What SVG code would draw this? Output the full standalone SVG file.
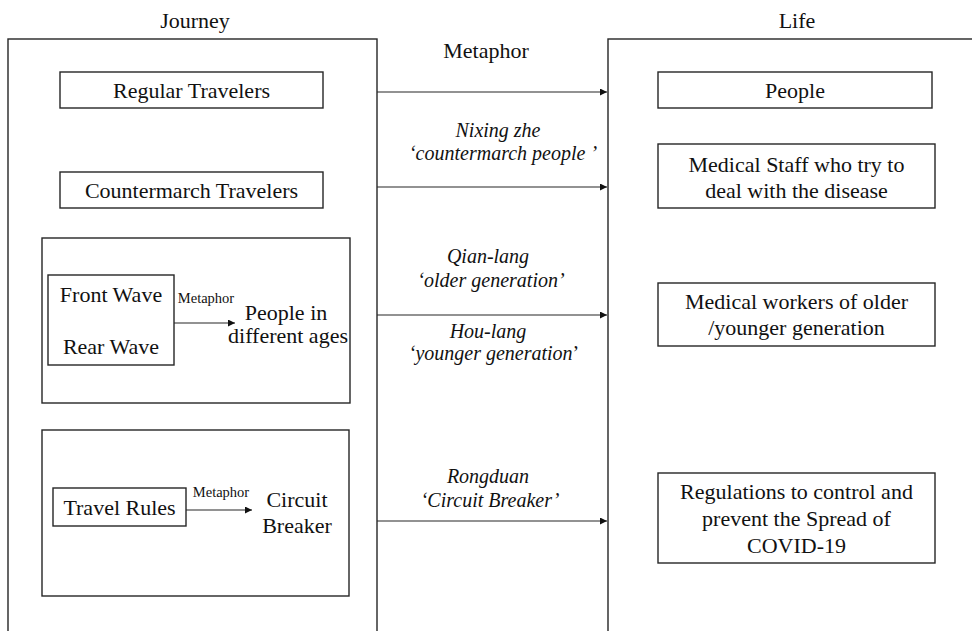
<svg xmlns="http://www.w3.org/2000/svg" width="972" height="631" viewBox="0 0 972 631">
  <style>
    .box { fill: #fff; stroke: #262626; stroke-width: 1.4; }
    .frame { fill: none; stroke: #262626; stroke-width: 1.4; }
    .t { font-family: "Liberation Serif", "Times New Roman", serif; font-size: 22px; fill: #111; text-anchor: middle; }
    .s { font-family: "Liberation Serif", "Times New Roman", serif; font-size: 14.5px; fill: #111; text-anchor: middle; }
    .i { font-family: "Liberation Serif", "Times New Roman", serif; font-size: 20px; font-style: italic; fill: #111; text-anchor: middle; }
    .link { stroke: #262626; stroke-width: 1.2; fill: none; marker-end: url(#arrow); }
  </style>
  <defs>
    <marker id="arrow" viewBox="0 0 10 10" refX="10" refY="5" markerWidth="9" markerHeight="7" markerUnits="userSpaceOnUse" orient="auto">
      <path d="M0,0 L10,5 L0,10 Z" fill="#111"/>
    </marker>
  </defs>

  <rect width="972" height="631" fill="#fff"/>

  <!-- Journey domain -->
  <g id="journey">
    <text class="t" x="195" y="28">Journey</text>
    <rect class="frame" x="8" y="39" width="369" height="620"/>
  </g>

  <!-- Life domain -->
  <g id="life">
    <text class="t" x="797" y="28">Life</text>
    <rect class="frame" x="608" y="39" width="400" height="620"/>
  </g>

  <g id="metaphor-title">
    <text class="t" x="486" y="58">Metaphor</text>
  </g>

  <g id="regular-travelers">
    <rect class="box" x="60" y="72" width="263" height="36"/>
    <text class="t" x="191.5" y="98">Regular Travelers</text>
  </g>

  <g id="countermarch-travelers">
    <rect class="box" x="60" y="172" width="263" height="36"/>
    <text class="t" x="191.5" y="198">Countermarch Travelers</text>
  </g>

  <g id="waves">
    <rect class="box" x="42" y="238" width="308" height="165"/>
    <rect class="box" x="48" y="275" width="126" height="90"/>
    <text class="t" x="111" y="302">Front Wave</text>
    <text class="t" x="111" y="354">Rear Wave</text>
    <text class="s" x="206" y="303">Metaphor</text>
    <line class="link" x1="174" y1="323" x2="235" y2="323"/>
    <text class="t" x="286" y="320">People in</text>
    <text class="t" x="288" y="343">different ages</text>
  </g>

  <g id="travel-rules">
    <rect class="box" x="42" y="430" width="307" height="166"/>
    <rect class="box" x="53" y="488" width="133" height="38"/>
    <text class="t" x="119.5" y="515">Travel Rules</text>
    <text class="s" x="221" y="497">Metaphor</text>
    <line class="link" x1="186" y1="510" x2="252" y2="510"/>
    <text class="t" x="297" y="507">Circuit</text>
    <text class="t" x="297" y="533">Breaker</text>
  </g>

  <g id="people">
    <rect class="box" x="658" y="72" width="274" height="36"/>
    <text class="t" x="795" y="98">People</text>
  </g>

  <g id="medical-staff">
    <rect class="box" x="658" y="144" width="277" height="64"/>
    <text class="t" x="796.5" y="172">Medical Staff who try to</text>
    <text class="t" x="796.5" y="198">deal with the disease</text>
  </g>

  <g id="medical-workers">
    <rect class="box" x="658" y="283" width="277" height="63"/>
    <text class="t" x="796.5" y="309">Medical workers of older</text>
    <text class="t" x="796.5" y="335">/younger generation</text>
  </g>

  <g id="regulations">
    <rect class="box" x="658" y="473" width="277" height="90"/>
    <text class="t" x="796.5" y="499">Regulations to control and</text>
    <text class="t" x="796.5" y="526">prevent the Spread of</text>
    <text class="t" x="796.5" y="553">COVID-19</text>
  </g>

  <!-- Mappings from the journey domain to the life domain -->
  <g id="connectors">
    <line class="link" x1="377" y1="92" x2="607" y2="92"/>
    <line class="link" x1="377" y1="187" x2="607" y2="187"/>
    <line class="link" x1="377" y1="315" x2="607" y2="315"/>
    <line class="link" x1="377" y1="521" x2="607" y2="521"/>
    <text class="i" x="498" y="137">Nixing zhe</text>
    <text class="i" x="503" y="160">‘countermarch people ’</text>
    <text class="i" x="488" y="263">Qian-lang</text>
    <text class="i" x="491" y="287">‘older generation’</text>
    <text class="i" x="488" y="338">Hou-lang</text>
    <text class="i" x="494" y="360">‘younger generation<tspan font-style="normal">’</tspan></text>
    <text class="i" x="488" y="483">Rongduan</text>
    <text class="i" x="490" y="507">‘Circuit Breaker’</text>
  </g>
</svg>
